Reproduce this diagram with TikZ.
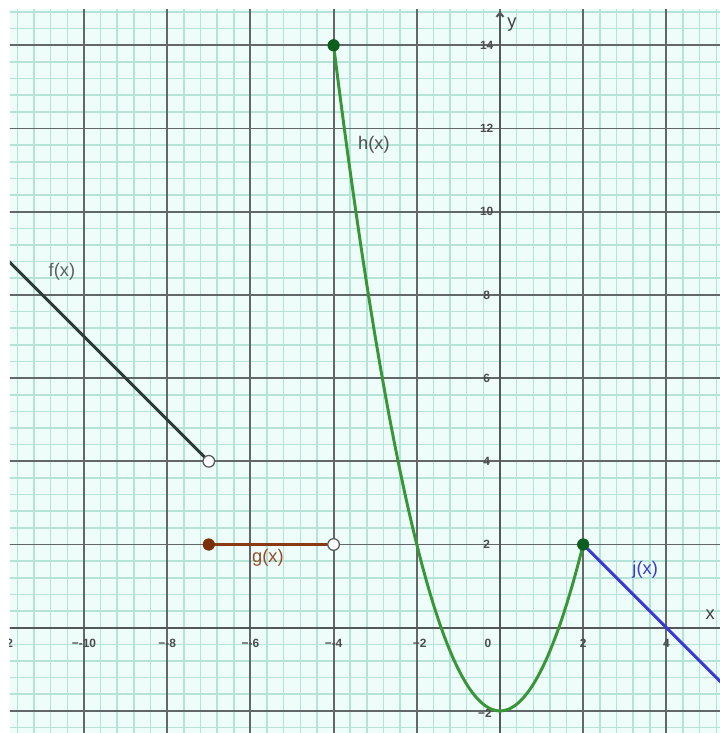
\documentclass[tikz,border=0pt]{standalone}
\usepackage{fontspec}
\setmainfont{Liberation Sans}
\usetikzlibrary{arrows.meta}
\definecolor{gridbg}{HTML}{EEFCFA}
\definecolor{minorc}{HTML}{B5E3D8}
\definecolor{majorc}{HTML}{62676A}
\definecolor{fcol}{HTML}{2E3B3B}
\definecolor{gcol}{HTML}{8A3A12}
\definecolor{gpt}{HTML}{7A2E0A}
\definecolor{hcol}{HTML}{389638}
\definecolor{hpt}{HTML}{0E5E1E}
\definecolor{jcol}{HTML}{3A3AD0}
\tikzset{
  minorline/.style={minorc, line width=1.1pt},
  majorline/.style={majorc, line width=1.3pt},
  axisline/.style={majorc!85!black, line width=1.4pt},
  curve/.style={line width=2.1pt},
  closedpt/.style={circle, inner sep=0pt, minimum size=0.29cm, draw=#1, fill=#1},
  openpt/.style={circle, inner sep=0pt, minimum size=0.29cm, draw=black!65, line width=0.9pt, fill=white},
  ticklab/.style={font=\fontsize{8.5}{9}\selectfont\bfseries, text=black!70},
  funlab/.style={font=\fontsize{13}{15}\selectfont},
}
\begin{document}
\begin{tikzpicture}[x=1.04cm,y=1.04cm]
\useasboundingbox (-12.019,-2.531) rectangle (5.288,15.089);
\fill[white] (-12.019,-2.531) rectangle (5.288,15.089);
\begin{scope}
\clip (-11.78,-2.6) rectangle (5.3,14.87);
\fill[gridbg] (-11.78,-2.6) rectangle (5.3,14.87);
\foreach \i in {-30,...,14} \draw[minorline] (\i*0.4,-2.7) -- (\i*0.4,15.1);
\foreach \i in {-7,...,38} \draw[minorline] (-12.1,\i*0.4) -- (5.4,\i*0.4);
\foreach \x in {-12,-10,...,4} \draw[majorline] (\x,-2.7) -- (\x,15.1);
\foreach \y in {-2,0,...,14} \draw[majorline] (-12.1,\y) -- (5.4,\y);
\draw[axisline] (-12.1,0) -- (5.4,0);
\draw[axisline,-{Straight Barb[length=3pt,width=5pt]}] (0,-2.7) -- (0,14.82);
% tick labels
\foreach \x in {-12,-10,-8,-6,-4} \node[ticklab] at (\x,-0.37) {−\x};
\node[ticklab] (tm2) at (-1.93,-0.37) {−2};
\node[ticklab] (t0) at (-0.29,-0.37) {0};
\node[ticklab] (t2) at (2,-0.37) {2};
\node[ticklab] (t4) at (4,-0.37) {4};
\foreach \y in {4,6,8,10,12,14} \node[ticklab] at (-0.32,\y) {\y};
\node[ticklab] (ty2) at (-0.32,2) {2};
\node[ticklab] (tym2) at (-0.36,-2.05) {−2};
% functions
\coordinate (fL) at (-12.2,9.2);
\coordinate (fR) at (-7,4);
\coordinate (gL) at (-7,2);
\coordinate (gR) at (-4,2);
\coordinate (hL) at (-4,14);
\coordinate (hR) at (2,2);
\coordinate (jR) at (5.6,-1.6);
\draw[curve, fcol] (fL) -- (fR);
\draw[curve, gcol] (gL) -- (gR);
\draw[curve, hcol, domain=-4:2, samples=120, smooth] plot (\x,{\x*\x-2});
\draw[curve, jcol] (hR) -- (jR);
\node[openpt] (fo) at (fR) {};
\node[closedpt=gpt] (gc) at (gL) {};
\node[openpt] (go) at (gR) {};
\node[closedpt=hpt] (hc1) at (hL) {};
\node[closedpt=hpt] (hc2) at (hR) {};
% labels
\node[funlab, text=fcol!80] (lf) at (-10.53,8.55) {f(x)};
\node[funlab, text=black!70] (lh) at (-3.03,11.6) {h(x)};
\node[funlab, text=gcol!90] (lg) at (-5.58,1.68) {g(x)};
\node[funlab, text=jcol] (lj) at (3.49,1.39) {j(x)};
\node[funlab, text=black!75] (lx) at (5.05,0.31) {x};
\node[funlab, text=black!75] (ly) at (0.29,14.49) {y};
\end{scope}
\end{tikzpicture}
\end{document}
